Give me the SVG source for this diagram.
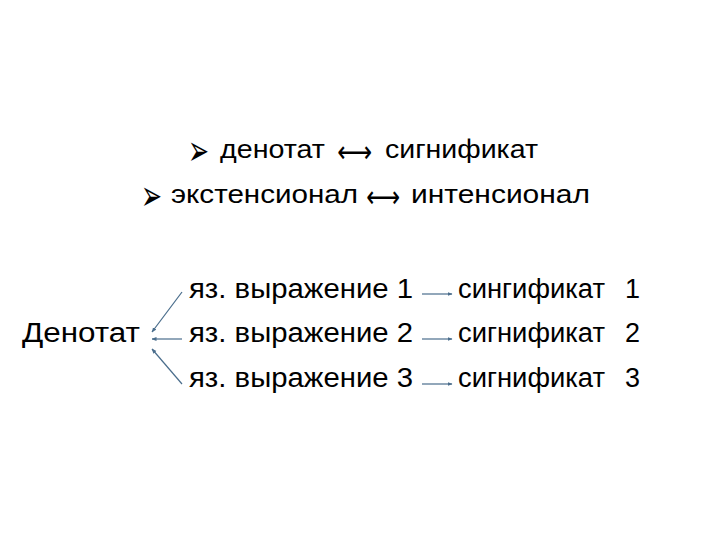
<svg xmlns="http://www.w3.org/2000/svg" width="720" height="540" viewBox="0 0 720 540">
<defs>
<style>
.t{font-family:"Liberation Sans","Open Sans",sans-serif;font-size:25px;fill:#000}
.s{font-family:"Liberation Sans","Open Sans",sans-serif;font-size:27px;fill:#000}
.a{font-family:"DejaVu Sans",sans-serif;font-size:30px;fill:#000}
.b{font-family:"DejaVu Sans",sans-serif;font-size:42px;fill:#000}
.c{stroke:#4a6d8c;stroke-width:1.2;fill:none;marker-end:url(#ah)}
</style>
<marker id="ah" viewBox="0 0 10 10" refX="9" refY="5" markerWidth="5" markerHeight="5" orient="auto" markerUnits="userSpaceOnUse">
<path d="M0,1 L10,5 L0,9 z" fill="#4a6d8c"/>
</marker>
</defs>
<rect width="720" height="540" fill="#fff"/>
<g id="line1">
<text class="b" x="188" y="165" textLength="21" lengthAdjust="spacingAndGlyphs">➢</text>
<text class="t" x="220" y="158" textLength="105" lengthAdjust="spacingAndGlyphs">денотат</text>
<text class="a" x="337" y="162" textLength="35" lengthAdjust="spacingAndGlyphs">⟷</text>
<text class="t" x="385" y="158" textLength="153" lengthAdjust="spacingAndGlyphs">сигнификат</text>
</g>
<g id="line2">
<text class="b" x="141" y="210" textLength="21" lengthAdjust="spacingAndGlyphs">➢</text>
<text class="t" x="171" y="203" textLength="187" lengthAdjust="spacingAndGlyphs">экстенсионал</text>
<text class="a" x="366" y="207" textLength="34" lengthAdjust="spacingAndGlyphs">⟷</text>
<text class="t" x="411" y="203" textLength="179" lengthAdjust="spacingAndGlyphs">интенсионал</text>
</g>
<g id="denotat"><text class="s" x="22" y="342" textLength="118" lengthAdjust="spacingAndGlyphs">Денотат</text></g>
<g id="expr1"><text class="s" x="189" y="298" textLength="224" lengthAdjust="spacingAndGlyphs">яз. выражение 1</text></g>
<g id="expr2"><text class="s" x="189" y="342" textLength="224" lengthAdjust="spacingAndGlyphs">яз. выражение 2</text></g>
<g id="expr3"><text class="s" x="189" y="387" textLength="224" lengthAdjust="spacingAndGlyphs">яз. выражение 3</text></g>
<g id="sig1"><text class="s" x="458" y="298" textLength="147" lengthAdjust="spacingAndGlyphs">сингификат</text><text class="s" x="625" y="298">1</text></g>
<g id="sig2"><text class="s" x="458" y="342" textLength="147" lengthAdjust="spacingAndGlyphs">сигнификат</text><text class="s" x="625" y="342">2</text></g>
<g id="sig3"><text class="s" x="458" y="387" textLength="147" lengthAdjust="spacingAndGlyphs">сигнификат</text><text class="s" x="625" y="387">3</text></g>
<g id="connectors">
<line class="c" x1="182" y1="292" x2="152" y2="332"/>
<line class="c" x1="182" y1="339" x2="152" y2="339"/>
<line class="c" x1="182" y1="384" x2="152" y2="349"/>
<line class="c" x1="422" y1="294" x2="452" y2="294"/>
<line class="c" x1="422" y1="339" x2="452" y2="339"/>
<line class="c" x1="422" y1="384" x2="452" y2="384"/>
</g>
</svg>
